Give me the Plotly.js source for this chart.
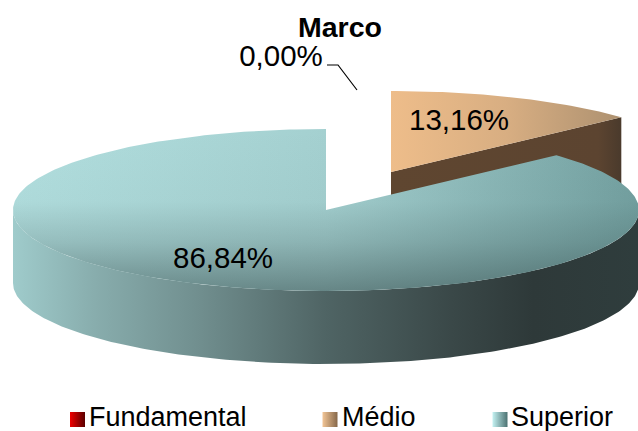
<!DOCTYPE html>
<html><head><meta charset="utf-8">
<script src="https://cdn.plot.ly/plotly-3.0.1.min.js"></script>
<style>html,body{margin:0;padding:0;background:#fff;overflow:hidden}</style>
</head><body><div id="chart" style="width:638px;height:431px"></div>
<script>
// ---- data ----
const categories = ['Fundamental', 'Médio', 'Superior'];
const shares = [0.00, 13.16, 86.84];
const chartTitle = 'Marco';

// ---- view of the tilted disc, in plot units ----
const cx = 326, cy = 210, rx = 313, ry = 81, depth = 73;
const medioShift = [65, -38];
const labelAt = [[281, 59], [459, 123], [223, 261]];
const swatchAt = [[77.5, 419.5], [330, 419.5], [500, 419.5]];
const keyTextAt = [[89, 419.5], [342, 419.5], [511, 419.5]];
const swatchTop = ['#ee0000', '#f2c596', '#c4f2f2'];
const swatchEnd = ['#5a0000', '#86684a', '#4c7272'];
const font = 'Liberation Sans, Arial, sans-serif';

const fmt = v => v.toFixed(2).replace('.', ',') + '%';
const rad = pct => pct / 100 * 2 * Math.PI;
const pt = (a, dx = 0, dy = 0) => [cx + dx + rx * Math.sin(a), cy + dy - ry * Math.cos(a)];
function arc(a0, a1, dx = 0, dy = 0) {
  const out = [], n = Math.max(2, Math.ceil(Math.abs(a1 - a0) * 60));
  for (let i = 0; i <= n; i++) out.push(pt(a0 + (a1 - a0) * i / n, dx, dy));
  return out;
}
function poly(points, name, grad) {
  const p = points.concat([points[0]]);
  return { type: 'scatter', mode: 'lines', x: p.map(q => q[0]), y: p.map(q => q[1]), fill: 'toself',
    line: { width: 0 }, fillgradient: grad, fillcolor: 'rgba(0,0,0,0)', hoverinfo: 'skip', showlegend: false, name };
}
const hGrad = (stops, a, b) => ({ type: 'horizontal', start: a, stop: b, colorscale: stops });
const vGrad = (stops, a, b) => ({ type: 'vertical', start: a, stop: b, colorscale: stops });

const medioEnd = rad(shares[1]);
const [mx, my] = medioShift;
const traces = [];

// Médio: cut face, then top
const apexM = [cx + mx, cy + my];
const endM = pt(medioEnd, mx, my);
traces.push(poly([apexM, endM, [endM[0], endM[1] + depth], [apexM[0], apexM[1] + depth]], 'Médio lado',
  hGrad([[0, '#5f4630'], [0.9, '#5c4430'], [1, '#4a3a2c']], apexM[0], endM[0])));
traces.push(poly([apexM].concat(arc(0, medioEnd, mx, my)), 'Médio',
  hGrad([[0, '#eebd8a'], [0.5, '#d8ae82'], [1, '#ad9170']], apexM[0], endM[0])));

// Superior: front wall, then top with two gradient layers
const front = arc(Math.PI / 2, 3 * Math.PI / 2);
const wall = front.concat(front.slice().reverse().map(q => [q[0], q[1] + depth]));
traces.push(poly(wall, 'Superior lado', hGrad([
  [0, '#9fcbcb'], [0.13, '#88adad'], [0.3, '#708e8e'], [0.5, '#4f6464'],
  [0.7, '#3a4848'], [0.83, '#2e3939'], [1, '#2f3d3d']], cx - rx, cx + rx)));
const topS = [[cx, cy]].concat(arc(medioEnd, 2 * Math.PI));
traces.push(poly(topS, 'Superior', hGrad([[0, '#b2dfdf'], [0.5, '#a4d0d0'], [1, '#73a0a0']], cx - rx, cx + rx)));
traces.push(poly(topS, 'Superior sombra', vGrad([
  [0, 'rgba(40,60,60,0)'], [0.45, 'rgba(40,60,60,0.03)'], [0.7, 'rgba(40,60,60,0.2)'], [1, 'rgba(40,60,60,0.5)']], cy - ry, cy + ry)));

// leader for the empty slice
traces.push({ type: 'scatter', mode: 'lines', x: [327, 338, 357], y: [65, 65, 90],
  line: { color: '#000', width: 1.2 }, hoverinfo: 'skip', showlegend: false });

// percentage labels
traces.push({ type: 'scatter', mode: 'text', x: labelAt.map(p => p[0]), y: labelAt.map(p => p[1]),
  text: shares.map(fmt), textposition: 'middle center', cliponaxis: false,
  textfont: { family: font, size: 29.5, color: '#000' }, hoverinfo: 'skip', showlegend: false });

// key: swatches and their words
categories.forEach((c, i) => traces.push({ type: 'scatter', mode: 'markers', name: c,
  x: [swatchAt[i][0]], y: [swatchAt[i][1]], cliponaxis: false,
  marker: { symbol: 'square', size: 15, color: swatchTop[i], line: { width: 0 },
    gradient: { type: 'horizontal', color: swatchEnd[i] } },
  hoverinfo: 'skip', showlegend: false }));
traces.push({ type: 'scatter', mode: 'text', x: keyTextAt.map(p => p[0]), y: keyTextAt.map(p => p[1]),
  text: categories, textposition: 'middle right', cliponaxis: false,
  textfont: { family: font, size: 27, color: '#000' }, hoverinfo: 'skip', showlegend: false });

const layout = {
  width: 638, height: 431, margin: { l: 0, r: 0, t: 0, b: 0 }, paper_bgcolor: '#fff', plot_bgcolor: '#fff',
  showlegend: false,
  title: { text: '<b>' + chartTitle + '</b>', x: 340 / 638, xanchor: 'center', y: 1 - 27 / 431, yanchor: 'middle',
    font: { family: font, size: 28.5, color: '#000' } },
  xaxis: { range: [0, 638], visible: false, fixedrange: true },
  yaxis: { range: [431, 0], visible: false, fixedrange: true }
};
Plotly.newPlot('chart', traces, layout, { displayModeBar: false, staticPlot: true });
</script></body></html>
